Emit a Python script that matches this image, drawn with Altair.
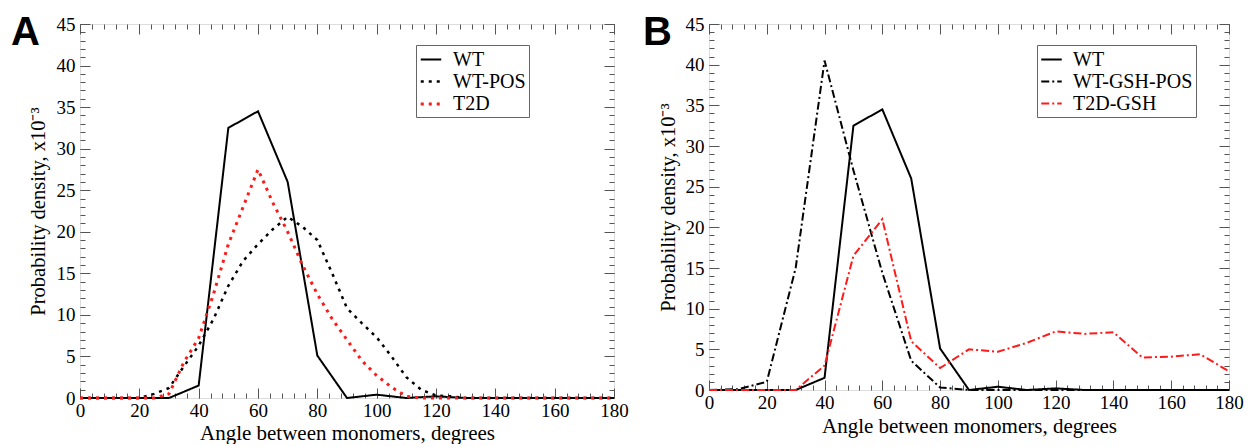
import altair as alt
import pandas as pd

# ---------------- data ----------------
angles_10 = list(range(0, 181, 10))
angles_5 = list(range(0, 181, 5))

panel_labels = ["A", "B"]
series_a = ["WT", "WT-POS", "T2D"]
series_b = ["WT", "WT-GSH-POS", "T2D-GSH"]

wt = [0, 0, 0, 0, 1.5, 32.5, 34.5, 26, 5.1, 0, 0.4, 0, 0.2, 0, 0, 0, 0, 0, 0]
wt_pos = [0, 0, 0, 0, 0, 0.5, 1.2, 3.8, 6.3, 9.5, 13.5, 16.5, 18.5, 20.3, 21.8,
          20.6, 19, 15, 10.8, 9, 7.3, 5, 2.5, 1, 0.3, 0.2,
          0, 0, 0, 0, 0, 0, 0, 0, 0, 0, 0]
t2d = [0, 0, 0, 0, 0, 0, 0.5, 4.3, 7.2, 12.5, 18.5, 23, 27.5, 23.5, 20,
       16, 12.5, 9.5, 7, 4.5, 2.7, 1.3, 0.2,
       0, 0, 0, 0, 0, 0, 0, 0, 0, 0, 0, 0, 0, 0]
wt_gsh_pos = [0, 0.1, 1.0, 15, 40.5, 27, 14.4, 3.6, 0.3, 0, 0, 0, 0, 0, 0, 0, 0, 0, 0]
t2d_gsh = [0, 0, 0, 0, 3, 16.5, 21, 6, 2.7, 5, 4.7, 5.8, 7.2, 6.9, 7.1, 4, 4.1, 4.4, 2.3]

x_major = list(range(0, 181, 20))
x_minor = list(range(0, 181, 4))
y_major = list(range(0, 46, 5))
y_minor = list(range(0, 46, 1))

x_title = "Angle between monomers, degrees"
y_title = "Probability density, x10\u207b\u00b3"


def long_df(names, xs_list, ys_list):
    rows = []
    for n, xs, ys in zip(names, xs_list, ys_list):
        for a, d in zip(xs, ys):
            rows.append({"series": n, "angle": a, "density": d})
    return pd.DataFrame(rows)


df_a = long_df(series_a, [angles_10, angles_5, angles_5], [wt, wt_pos, t2d])
df_b = long_df(series_b, [angles_10, angles_10, angles_10], [wt, wt_gsh_pos, t2d_gsh])

SERIF = "Liberation Serif"
TICK = "#555555"


def make_axis(orient, values, major, labels=False, title=None, title_size=20, **kw):
    size = 10 if major else 5
    args = dict(orient=orient, values=values, tickSize=size, offset=-size,
                domain=False, grid=False, tickColor=TICK, tickWidth=1,
                labels=labels)
    if labels:
        args.update(labelFont=SERIF, labelFontSize=19, labelColor="black",
                    labelFlush=False, labelOverlap=False, format="d")
    if title:
        args.update(title=title, titleFont=SERIF, titleFontSize=title_size,
                    titleFontWeight="normal", titleColor="black")
    else:
        args.update(title=None)
    args.update(kw)
    return alt.Axis(**args)


def panel(df, names, colors, dashes, widths, letter, w, h, leg_x, leg_y,
          letter_x, xt_y, yt_x):
    xs = alt.Scale(domain=[0, 180], nice=False, zero=False)
    ys = alt.Scale(domain=[0, 45], nice=False, zero=False)
    base = alt.Chart(df)

    def axis_layer(xaxis, yaxis):
        return base.mark_line(opacity=0).encode(
            x=alt.X("angle:Q", scale=xs, axis=xaxis),
            y=alt.Y("density:Q", scale=ys, axis=yaxis),
            detail="series:N",
        )

    ax1 = axis_layer(
        make_axis("bottom", x_major, True, labels=True, title=x_title,
                  title_size=21, labelPadding=3, titleY=xt_y,
                  titleBaseline="middle"),
        make_axis("left", y_major, True, labels=True, title=y_title,
                  title_size=20.5, labelPadding=5, titleX=yt_x, titleY=h / 2,
                  titleAngle=270, titleAlign="center", titleBaseline="middle"),
    )
    ax2 = axis_layer(make_axis("bottom", x_minor, False),
                     make_axis("left", y_minor, False))
    ax3 = axis_layer(make_axis("top", x_major, True),
                     make_axis("right", y_major, True))
    ax4 = axis_layer(make_axis("top", x_minor, False),
                     make_axis("right", y_minor, False))

    legend = alt.Legend(
        orient="none", legendX=leg_x, legendY=leg_y, title=None,
        strokeColor="#666666", fillColor="white", padding=3,
        labelFont=SERIF, labelFontSize=20, labelColor="black",
        symbolType="stroke", symbolSize=420, labelOffset=10, rowPadding=0,
        labelLimit=300,
    )
    color = alt.Color("series:N", scale=alt.Scale(domain=names, range=colors),
                      legend=legend)
    dash = alt.StrokeDash("series:N", scale=alt.Scale(domain=names, range=dashes),
                          legend=legend)
    sw = alt.StrokeWidth("series:N", scale=alt.Scale(domain=names, range=widths),
                         legend=legend)

    lines = []
    for n in names:
        lines.append(
            base.transform_filter(alt.datum.series == n)
            .mark_line(strokeCap="butt", strokeJoin="miter")
            .encode(
                x=alt.X("angle:Q", scale=xs, axis=None),
                y=alt.Y("density:Q", scale=ys, axis=None),
                color=color, strokeDash=dash, strokeWidth=sw,
            )
        )

    letter_layer = alt.Chart(pd.DataFrame({"label": [letter]})).mark_text(
        font="Liberation Sans", fontSize=40, fontWeight="bold",
        align="left", baseline="alphabetic", color="black",
    ).encode(x=alt.value(letter_x), y=alt.value(21), text="label:N")

    return (
        alt.layer(ax1, ax2, ax3, ax4, *lines, letter_layer)
        .resolve_axis(x="independent", y="independent")
        .properties(width=w, height=h)
    )


pa = panel(df_a, series_a, ["black", "black", "#ff1a1a"],
           [[1, 0], [3, 5], [3, 5]], [2, 3, 3],
           panel_labels[0], 534, 374, 336, 21, -69, 45, -52)
pb = panel(df_b, series_b, ["black", "black", "#ff1a1a"],
           [[1, 0], [8, 3, 2, 3], [8, 3, 2, 3]], [2, 2, 2],
           panel_labels[1], 520, 366, 328, 21, -66, 46, -51)

chart = (
    alt.hconcat(pa, pb, spacing=13)
    .resolve_scale(x="independent", y="independent", color="independent",
                   strokeDash="independent", strokeWidth="independent")
    .resolve_legend(color="independent", strokeDash="independent",
                    strokeWidth="independent")
    .properties(padding={"left": 2, "top": 4, "right": 0, "bottom": 0})
    .configure_view(stroke="#666666", strokeWidth=1)
    .configure(background="white")
)

chart.save("out.html", embed_options={"renderer": "svg", "actions": False})
